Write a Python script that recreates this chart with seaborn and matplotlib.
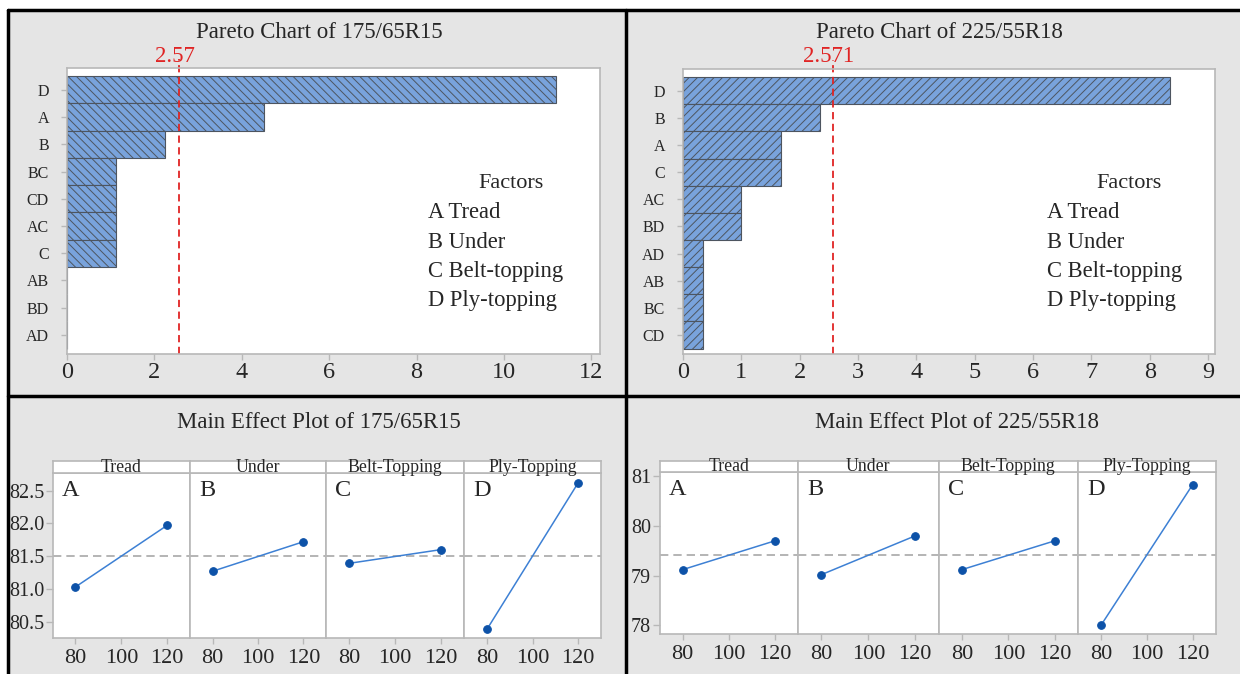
import numpy as np
import pandas as pd
import matplotlib
matplotlib.use("Agg")
import matplotlib.pyplot as plt
from matplotlib.patches import Rectangle
from matplotlib.lines import Line2D
import seaborn as sns

# ---- data ----
terms_15 = ["D", "A", "B", "BC", "CD", "AC", "C", "AB", "BD", "AD"]
effects_15 = [11.2, 4.5, 2.25, 1.12, 1.12, 1.12, 1.12, 0, 0, 0]
crit_15 = 2.57

terms_18 = ["D", "B", "A", "C", "AC", "BD", "AD", "AB", "BC", "CD"]
effects_18 = [8.35, 2.35, 1.68, 1.68, 1.0, 1.0, 0.35, 0.35, 0.35, 0.35]
crit_18 = 2.571

factor_lines = ["A Tread", "B Under", "C Belt-topping", "D Ply-topping"]
factor_names = ["Tread", "Under", "Belt-Topping", "Ply-Topping"]
factor_letters = ["A", "B", "C", "D"]
levels = [80, 120]
means_15 = [[81.03, 81.97], [81.27, 81.72], [81.39, 81.60], [80.38, 82.62]]
means_18 = [[79.12, 79.70], [79.02, 79.80], [79.12, 79.70], [78.00, 80.83]]
grand_15 = 81.50
grand_18 = 79.42

sns.set_theme(style="white")
plt.rcParams["font.family"] = ["Liberation Serif", "DejaVu Serif"]
plt.rcParams["hatch.linewidth"] = 0.7

W, H = 1240, 674
fig = plt.figure(figsize=(12.4, 6.74), dpi=100)
fig.patch.set_facecolor("white")


def box(x0, y0, x1, y1):
    return [x0 / W, 1 - y1 / H, (x1 - x0) / W, (y1 - y0) / H]


def fx(x):
    return x / W


def fy(y):
    return 1 - y / H


# panel backgrounds and black frame
panel_bg = "#e5e5e5"
for x0, y0, x1, y1 in [(8, 10, 626, 396), (626, 10, 1240, 396),
                       (8, 396, 626, 674), (626, 396, 1240, 674)]:
    fig.add_artist(Rectangle((fx(x0), fy(y1)), (x1 - x0) / W, (y1 - y0) / H,
                             transform=fig.transFigure, facecolor=panel_bg,
                             edgecolor="none", zorder=-5))
for xs, ys in [([8, 1240], [10, 10]), ([8, 8], [10, 674]),
               ([626, 626], [10, 674]), ([8, 1240], [396, 396])]:
    fig.add_artist(Line2D([fx(v) for v in xs], [fy(v) for v in ys],
                          color="black", lw=2.5, transform=fig.transFigure))

bar_color = "#79a3dc"
bar_edge = "#4d5560"
red = "#e02424"
grey_edge = "#b8b8b8"


def pareto(rect, title, terms, effects, crit, hatch, xmax, xticks, title_x,
           crit_label, fac_title_x, fac_x):
    ax = fig.add_axes(box(*rect))
    df = pd.DataFrame({"term": terms, "effect": effects})
    sns.barplot(data=df, x="effect", y="term", orient="h", width=1.0,
                color=bar_color, saturation=1, edgecolor=bar_edge,
                linewidth=0.8, ax=ax)
    for p in ax.patches:
        p.set_hatch(hatch)
    ax.set_facecolor("white")
    ax.set_xlim(0, xmax)
    ax.set_ylim(len(terms) - 1 + 0.7, -0.8)
    ax.set_xticks(xticks)
    ax.set_xlabel("")
    ax.set_ylabel("")
    ax.axvline(crit, ymin=0, ymax=1.03, color=red, ls=(0, (4, 2.5)), lw=1.3,
               clip_on=False)
    for s in ax.spines.values():
        s.set_color(grey_edge)
        s.set_linewidth(1.2)
    ax.tick_params(axis="x", length=4, width=1, color=grey_edge, pad=2,
                   labelsize=17.5, bottom=True)
    ax.tick_params(axis="y", length=4, width=1, color=grey_edge, pad=9,
                   labelsize=11.5, left=True)
    fig.text(fx(title_x), fy(33), title, ha="center", va="center",
             fontsize=16.5)
    line_px = rect[0] + (rect[2] - rect[0]) * crit / xmax
    fig.text(fx(line_px - 4), fy(57), crit_label, color=red, ha="center",
             va="center", fontsize=16.5)
    fig.text(fx(fac_title_x), fy(183), "Factors", ha="center", va="center",
             fontsize=16)
    for k, line in enumerate(factor_lines):
        fig.text(fx(fac_x), fy(213 + k * 29.0), line, ha="left", va="center",
                 fontsize=16.3)
    return ax


pareto((67, 68, 600, 354), "Pareto Chart of 175/65R15", terms_15, effects_15,
       crit_15, "\\\\\\\\", 12.2, [0, 2, 4, 6, 8, 10, 12], 319, "2.57",
       511, 428)
pareto((683, 69, 1215, 354), "Pareto Chart of 225/55R18", terms_18,
       effects_18, crit_18, "////", 9.12, list(range(10)), 939, "2.571",
       1129, 1047)

line_c = "#3d80d4"
dot_c = "#0d52a8"


def main_effects(xs, top, strip_bottom, bottom, means, grand, ylim, yticks,
                 ylabels, title, title_x, letter_dy):
    fig.text(fx(title_x), fy(423), title, ha="center", va="center",
             fontsize=16.5)
    for i in range(4):
        ax = fig.add_axes(box(xs[i], strip_bottom, xs[i + 1], bottom))
        df = pd.DataFrame({"level": levels, "mean": means[i]})
        ax.axhline(grand, color="#a8a8a8", ls=(0, (5, 3)), lw=1.2, zorder=1)
        sns.lineplot(data=df, x="level", y="mean", color=line_c, lw=1.1,
                     marker="o", markersize=5.5, markerfacecolor=dot_c,
                     markeredgecolor=dot_c, ax=ax, zorder=3)
        ax.set_facecolor("white")
        ax.set_xlim(70, 130)
        ax.set_ylim(*ylim)
        ax.set_xticks([80, 100, 120])
        ax.set_xlabel("")
        ax.set_ylabel("")
        for s in ax.spines.values():
            s.set_color(grey_edge)
            s.set_linewidth(1.2)
        ax.tick_params(axis="x", length=4, width=1, color=grey_edge, pad=4,
                       labelsize=16, bottom=True)
        if i == 0:
            ax.set_yticks(yticks)
            ax.set_yticklabels(ylabels)
            ax.tick_params(axis="y", length=5, width=1, color=grey_edge,
                           pad=1, labelsize=14.5, left=True)
        else:
            ax.set_yticks([])
        ax.text(0.065, 1 - letter_dy / (bottom - strip_bottom),
                factor_letters[i], transform=ax.transAxes, ha="left",
                va="center", fontsize=17.5)
        strip = fig.add_axes(box(xs[i], top, xs[i + 1], strip_bottom))
        strip.set_facecolor("white")
        strip.set_xticks([])
        strip.set_yticks([])
        for s in strip.spines.values():
            s.set_color(grey_edge)
            s.set_linewidth(1.2)
        strip.text(0.5, 0.08, factor_names[i], transform=strip.transAxes,
                   ha="center", va="baseline", fontsize=12.8)


main_effects([52.6, 190, 326, 464, 601], 461, 473, 638, means_15, grand_15,
             (80.25, 82.77), [80.5, 81.0, 81.5, 82.0, 82.5],
             ["80.5", "81.0", "81.5", "82.0", "82.5"],
             "Main Effect Plot of 175/65R15", 319, 17)
main_effects([659.5, 798, 938.6, 1078, 1215.6], 460.7, 471.7, 634.3,
             means_18, grand_18, (77.82, 81.09), [78, 79, 80, 81],
             ["78", "79", "80", "81"],
             "Main Effect Plot of 225/55R18", 957, 18)

fig.savefig("out.png", dpi=100)
